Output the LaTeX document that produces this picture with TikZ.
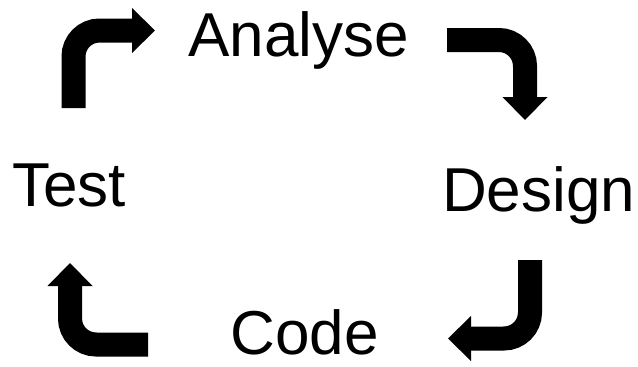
\documentclass[tikz,border=0pt]{standalone}
\usepackage{fontspec}
\setmainfont{Liberation Sans}
\usepackage{tikz}
\usetikzlibrary{arrows.meta,calc,positioning}
\tikzset{
  >={Triangle[width=45pt,length=23pt,line width=0pt]}
}

\begin{document}
\begin{tikzpicture}[x=1pt,y=-1pt,
    word/.style={anchor=base,inner sep=0pt,font=\fontsize{62}{74}\selectfont},
    turn/.style={->,line width=24pt,rounded corners=26pt}
  ]
    \useasboundingbox (0,0) rectangle (638,367);
    \node (ANA) at (298.5,56) [word] {Analyse};
    \node (DES) at (538.5,211) [word] {Design};
    \node (COD) at (304.5,354) [word] {Code};
    \node (TST) at (69,206) [word] {Test};

    \coordinate (T0) at (73.5,108);
    \coordinate (T1) at (155,30.5);
    \coordinate (A0) at (447,40);
    \coordinate (A1) at (525,120);
    \coordinate (D0) at (530,260);
    \coordinate (D1) at (448,338.5);
    \coordinate (C0) at (148,344.5);
    \coordinate (C1) at (70,263);

    \draw[turn] (T0) |- (T1);
    \draw[turn] (A0) -| (A1);
    \draw[turn] (D0) |- (D1);
    \draw[turn] (C0) -| (C1);

\end{tikzpicture}
\end{document}
